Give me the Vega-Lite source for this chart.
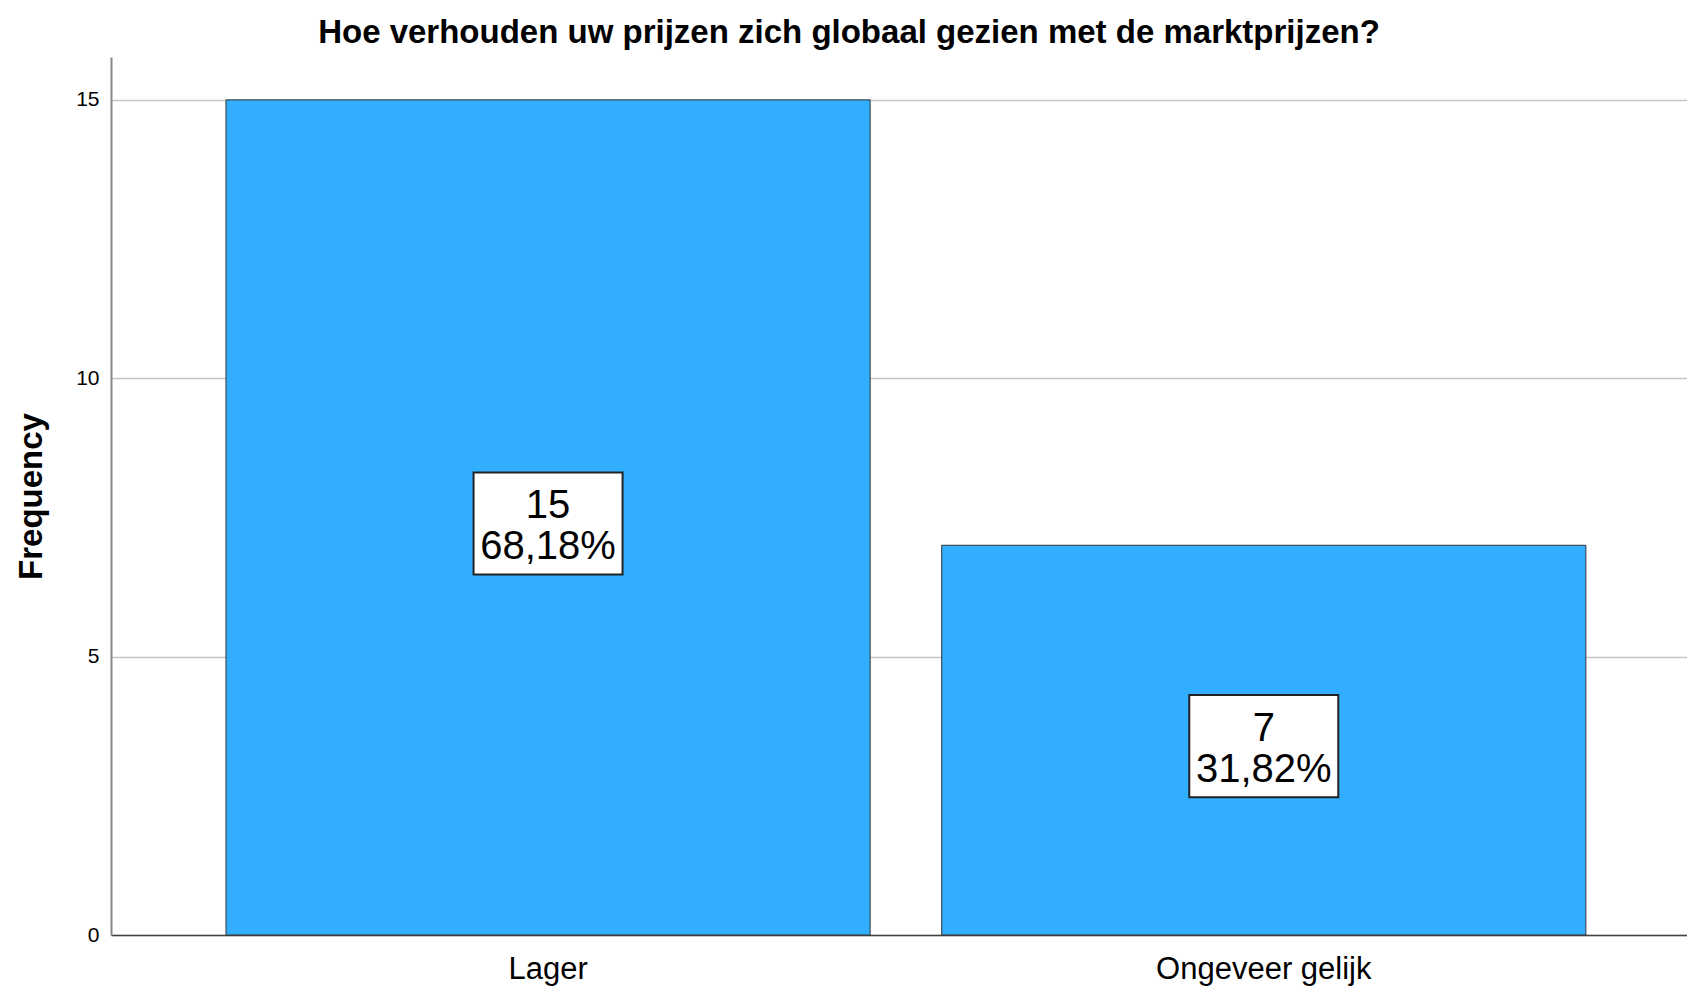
{
  "$schema": "https://vega.github.io/schema/vega-lite/v6.json",
  "width": 1576,
  "height": 878,
  "autosize": {"type": "none"},
  "padding": {"left": 111, "top": 57, "right": 0, "bottom": 51},
  "background": "white",
  "config": {"view": {"stroke": null}},
  "title": {
    "text": "Hoe verhouden uw prijzen zich globaal gezien met de marktprijzen?",
    "font": "Liberation Sans",
    "fontSize": 33,
    "fontWeight": "bold",
    "color": "black",
    "anchor": "middle",
    "baseline": "alphabetic",
    "dx": -50,
    "offset": -19
  },
  "data": {
    "values": [
      {"category": "Lager", "frequency": 15, "label": "15\n68,18%"},
      {"category": "Ongeveer gelijk", "frequency": 7, "label": "7\n31,82%"}
    ]
  },
  "encoding": {
    "x": {
      "field": "category",
      "type": "nominal",
      "sort": null,
      "scale": {"paddingInner": 0.1, "paddingOuter": 0.151, "align": 0.532},
      "axis": {
        "title": null,
        "labelAngle": 0,
        "labelFont": "Liberation Sans",
        "labelFontSize": 31,
        "labelColor": "black",
        "labelPadding": 19,
        "labelLimit": 1000,
        "ticks": false,
        "grid": false,
        "domainColor": "#444444",
        "domainWidth": 1.5
      }
    }
  },
  "layer": [
    {
      "mark": {"type": "bar", "color": "#31aefe", "stroke": "#333333", "strokeWidth": 1},
      "encoding": {
        "y": {
          "field": "frequency",
          "type": "quantitative",
          "scale": {"domain": [0, 15.77], "nice": false},
          "axis": {
            "title": "Frequency",
            "titleFont": "Liberation Sans",
            "titleFontSize": 33,
            "titleFontWeight": "bold",
            "titleColor": "black",
            "titlePadding": 27,
            "values": [0, 5, 10, 15],
            "labelFont": "Liberation Sans",
            "labelFontSize": 21,
            "labelColor": "black",
            "labelPadding": 12,
            "ticks": false,
            "domainColor": "#888888",
            "domainWidth": 2,
            "gridColor": "#c4c4c4",
            "gridWidth": 1.5
          }
        }
      }
    },
    {
      "transform": [{"calculate": "datum.frequency / 2", "as": "mid"}],
      "mark": {
        "type": "point",
        "shape": "M-1,-0.685H1V0.685H-1Z",
        "size": 22201,
        "filled": true,
        "fill": "white",
        "stroke": "#222222",
        "strokeWidth": 2,
        "opacity": 1,
        "yOffset": 6
      },
      "encoding": {
        "y": {"field": "mid", "type": "quantitative"}
      }
    },
    {
      "transform": [{"calculate": "datum.frequency / 2", "as": "mid"}],
      "mark": {
        "type": "text",
        "font": "Liberation Sans",
        "fontSize": 40,
        "lineHeight": 41,
        "lineBreak": "\n",
        "color": "black",
        "align": "center",
        "baseline": "middle",
        "yOffset": -11
      },
      "encoding": {
        "y": {"field": "mid", "type": "quantitative"},
        "text": {"field": "label", "type": "nominal"}
      }
    }
  ]
}
